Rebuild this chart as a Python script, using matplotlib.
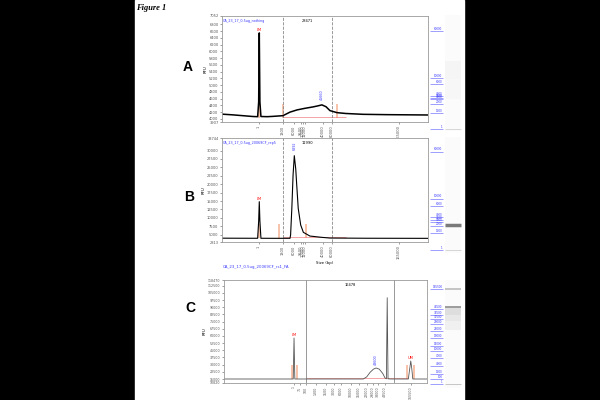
import matplotlib.pyplot as plt

W, H = 600, 400

def fx(px):
    return px / W

def fy(py):
    return 1 - py / H

# ----------------------------
# data (x = run position 0-100 across each trace)
# ----------------------------

# Panel A
a_x = [0, 5, 10, 15, 17.3, 17.8, 18.1, 18.4, 18.9, 22, 25, 29.6, 33, 36.4, 40, 44.2,
       46.5, 48.5, 50.5, 52.4, 55.8, 60, 68.4, 80, 90, 100]
a_y = [4140, 4120, 4095, 4070, 4065, 4500, 6550, 4500, 4070, 4065, 4075, 4095, 4200,
       4265, 4310, 4355, 4385, 4415, 4360, 4245, 4185, 4160, 4135, 4125, 4120, 4115]
a_ylim = (3907, 7052)
a_yticks = list(range(4000, 6801, 200))
a_xticks = [18.0, 29.6, 35.0, 38.3, 39.3, 40.3, 49.0, 53.4, 85.9]
a_xlabels = ["1", "1300", "6000", "9500", "10000", "11000", "40000", "60000", "165000"]
a_marks = [18.1, 29.6, 55.8]
a_region = (29.6, 53.4)
a_region_label = "28471"
a_peak = (48.5, 4560, "45660")
a_lm = (18.1, 6550)

# Panel B
b_x = [0, 10, 17.3, 17.8, 18.1, 18.4, 18.9, 25, 30, 33.0, 33.3, 33.9, 34.5, 35.1,
       35.8, 36.2, 37.0, 38.2, 39.5, 42.7, 48.4, 52.4, 70, 100]
b_y = [3950, 3930, 3920, 9000, 14800, 9000, 3920, 3910, 3910, 3913, 4900, 12830,
       22730, 28480, 24500, 20500, 12830, 7870, 5680, 4580, 4200, 3990, 3930, 3900]
b_ylim = (2813, 33744)
b_yticks = list(range(5000, 30001, 2500))
b_xticks = [18.0, 29.6, 35.0, 38.3, 39.3, 40.3, 49.0, 53.4, 85.9]
b_xlabels = ["1", "1300", "6000", "9500", "10000", "11000", "40000", "60000", "165000"]
b_marks = [18.0, 27.8, 40.8]
b_region = (29.6, 53.4)
b_region_label = "11990"
b_peak = (35.1, 30200, "6892")
b_lm = (18.1, 14800)

# Panel C
c_x = [0, 20, 34.1, 34.5, 34.9, 40, 55, 68.6, 70.3, 71.9, 73.6, 74.9, 76.5, 78.2,
       79.3, 80.0, 80.4, 80.8, 82, 88, 90.8, 91.5, 92.0, 92.5, 93.0, 97, 100]
c_y = [15000, 15000, 15000, 57850, 15000, 15000, 15000, 15000, 17230, 21830, 25280,
       26500, 25280, 20790, 16180, 15200, 99960, 15200, 15000, 15000, 15000, 26000,
       33810, 26000, 15000, 15000, 15000]
c_ylim = (10820, 118470)
c_yticks = list(range(15000, 112501, 7500))
c_xticks = [34.5, 37.4, 40.4, 45.3, 50.2, 54.2, 57.6, 62.6, 66.5, 70.4, 73.4, 75.9, 79.3, 92.1]
c_xlabels = ["1", "75", "100", "1300", "1500", "3000", "6000", "10000", "15000",
             "22000", "29000", "38000", "48500", "165500"]
c_marks = [33.6, 35.8, 90.3, 93.6]
c_region = (40.4, 83.7)
c_region_label = "16478"
c_peak = (74.9, 29500, "43600")
c_lm = (34.5, 57850)
c_um = (92.0, 33810)

# gel lanes (positions 0-100 down the lane)
ladder_ab = ["60000", "10000", "6000", "4000", "3500", "3000", "2000", "1300", "1"]
ladder_a_pos = [13.8, 54.3, 59.5, 69.8, 71.6, 72.4, 76.7, 84.5, 98.3]
ladder_b_pos = [12.9, 53.4, 59.5, 69.0, 71.6, 73.3, 76.7, 82.8, 97.4]
ladder_c = ["165500", "48500", "38500", "33500", "29000", "23000", "19000", "15000",
            "10000", "7000", "4000", "1300", "100", "1"]
ladder_c_pos = [8.3, 26.9, 32.4, 36.1, 40.7, 47.2, 53.7, 61.1, 65.7, 72.2, 79.6, 87.0, 91.7, 96.3]

bands_a = [(98.3, "#d2d2d2", 0.6)]
bands_b = [(75.9, "#7a7a7a", 2.5), (97.4, "#cfcfcf", 0.6)]
bands_c = [(8.3, "#c4c4c4", 1.4), (25.0, "#8c8c8c", 1.2), (96.3, "#bdbdbd", 0.6)]
smear_a = [(40, 55, "#f5f5f5"), (55, 72, "#f7f7f7")]
smear_b = []
smear_c = [(26, 32, "#dedede"), (32, 38, "#e8e8e8"), (38, 46, "#f0f0f0")]

# ----------------------------
# figure
# ----------------------------

fig = plt.figure(figsize=(6, 4), dpi=100, facecolor="black")
fig.patches.append(plt.Rectangle((fx(135), 0), fx(464) - fx(135), 1,
                                 transform=fig.transFigure, color="white", zorder=-10))

fig.text(fx(136), fy(8), "Figure 1", fontsize=6, style="italic", weight="bold",
         family="Liberation Serif", va="center", ha="left")

SALMON = "#f4a582"
BLUE = "#3a3aff"


def trace_panel(rect, xs, ys, ylim, yticks, xticks, xlabels, marks, region,
                region_label, peak, lm, title, tick_fs, line_color="black", lw=0.9,
                um=None, title_inside=True, region_style="--"):
    ax = fig.add_axes(rect)
    ax.set_xlim(0, 100)
    ax.set_ylim(*ylim)
    for s in ax.spines.values():
        s.set_color("#9a9a9a")
        s.set_linewidth(0.6)
    ax.set_yticks([ylim[0]] + yticks + [ylim[1]])
    ax.set_yticklabels([str(ylim[0])] + [str(v) for v in yticks] + [str(ylim[1])],
                       fontsize=tick_fs, color="#333333")
    ax.set_xticks(xticks)
    ax.set_xticklabels(xlabels, rotation=90, fontsize=tick_fs, color="#333333")
    ax.tick_params(length=1.5, width=0.4, pad=1, colors="#555555")
    ax.set_ylabel("RFU", fontsize=2.8, labelpad=1)
    ax.set_xlabel("Size (bp)", fontsize=2.8, labelpad=1)

    span = ylim[1] - ylim[0]
    for m in marks:
        ax.vlines(m, ylim[0] + 0.04 * span, ylim[0] + 0.17 * span, color=SALMON,
                  lw=1.2, alpha=0.8)
    ax.hlines(ylim[0] + 0.045 * span, region[0], region[1] + 7, color="#f08080", lw=0.5)
    ax.axvline(region[0], color="#888888", lw=0.6, ls=region_style)
    ax.axvline(region[1], color="#888888", lw=0.6, ls=region_style)
    ax.text((region[0] + region[1]) / 2, ylim[1] - 0.03 * span, region_label,
            fontsize=2.6, ha="center", va="top")
    ax.plot(xs, ys, color=line_color, lw=lw)
    ax.text(peak[0], peak[1], peak[2], fontsize=2.4, color=BLUE, rotation=90,
            ha="center", va="bottom")
    ax.text(lm[0], lm[1] + 0.01 * span, "LM", fontsize=2.6, color="red",
            ha="center", va="bottom")
    if um is not None:
        ax.text(um[0], um[1] + 0.01 * span, "UM", fontsize=2.6, color="red",
                ha="center", va="bottom")
    if title_inside:
        ax.text(0.5, ylim[1] - 0.03 * span, title, fontsize=2.4, color=BLUE,
                ha="left", va="top")
    return ax


def gel_strip(rect, pos, labels, bands, smear):
    ax = fig.add_axes(rect)
    ax.set_xlim(0, 1)
    ax.set_ylim(100, 0)
    ax.axis("off")
    ax.axvspan(0.47, 0.93, ymin=0.0, ymax=1.0, color="#fbfbfb", lw=0)
    for y0, y1, c in smear:
        ax.fill_between([0.47, 0.93], y0, y1, color=c, lw=0)
    for p, lab in zip(pos, labels):
        ax.hlines(p, 0.06, 0.42, color="#7777ff", lw=0.5)
        ax.text(0.40, p - 0.4, lab, fontsize=2.0, color=BLUE, ha="right", va="bottom")
    for p, c, w in bands:
        ax.hlines(p, 0.47, 0.93, color=c, lw=w)


trace_panel([fx(222), fy(122), fx(428) - fx(222), (122 - 16) / H], a_x, a_y, a_ylim,
            a_yticks, a_xticks, a_xlabels, a_marks, a_region, a_region_label, a_peak,
            a_lm, "CA_23_17_0.5ug_nothing", 2.6, lw=1.1)
trace_panel([fx(222), fy(242), fx(428) - fx(222), (242 - 138) / H], b_x, b_y, b_ylim,
            b_yticks, b_xticks, b_xlabels, b_marks, b_region, b_region_label, b_peak,
            b_lm, "CA_23_17_0.5ug_20069CF_rep5", 2.6, lw=0.8)
trace_panel([fx(224), fy(383), fx(427) - fx(224), (383 - 280) / H], c_x, c_y, c_ylim,
            c_yticks, c_xticks, c_xlabels, c_marks, c_region, c_region_label, c_peak,
            c_lm, "", 2.3, line_color="#555555", lw=0.6, um=c_um, title_inside=False,
            region_style="-")
fig.text(fx(223), fy(267), "CA_23_17_0.5ug_20069CF_rs1_FA", fontsize=2.8,
         color=BLUE, ha="left", va="center")

gel_strip([fx(428), fy(131), fx(464) - fx(428), 116 / H], ladder_a_pos, ladder_ab,
          bands_a, smear_a)
gel_strip([fx(428), fy(253), fx(464) - fx(428), 116 / H], ladder_b_pos, ladder_ab,
          bands_b, smear_b)
gel_strip([fx(428), fy(388), fx(464) - fx(428), 108 / H], ladder_c_pos, ladder_c,
          bands_c, smear_c)

for letter, px, py in [("A", 188, 67), ("B", 189, 197), ("C", 190, 308)]:
    fig.text(fx(px), fy(py), letter, fontsize=10, weight="bold", ha="center",
             va="center", family="Liberation Sans")

fig.savefig("out.png", dpi=100, facecolor="black")
